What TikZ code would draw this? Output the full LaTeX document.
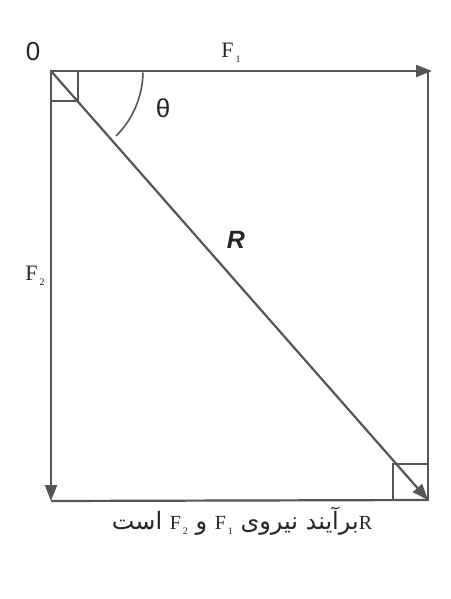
\documentclass[tikz,border=0pt]{standalone}
\usepackage{fontspec}
\setmainfont{Liberation Serif}
\newfontfamily\arabicfont[Script=Arabic,Scale=1.2]{DejaVu Sans}
\newfontfamily\lsans{Liberation Sans}
\TeXXeTstate=1
\usetikzlibrary{arrows.meta}
\definecolor{ink}{RGB}{85,85,85}
\tikzset{
  vec/.style={draw=ink, line width=2.2pt, -{Triangle[length=16pt,width=12pt]}},
  edge/.style={draw=ink, line width=2.2pt},
  thin/.style={draw=ink, line width=1.6pt},
  lab/.style={inner sep=0pt, text=black!85}
}
\newcommand{\Fsub}[1]{F\kern2pt\raisebox{-5pt}{\fontsize{10}{10}\selectfont #1}}
\begin{document}
\begin{tikzpicture}[x=1pt,y=-1pt]
\useasboundingbox (0,0) rectangle (450,599);
\coordinate (O) at (51,71);
\coordinate (A) at (432,71);
\coordinate (Ar) at (428,71);
\coordinate (B) at (51,501);
\coordinate (C) at (428,500);
% corner squares
\draw[thin] (51,71) rectangle (78,101);
\draw[thin] (393,464) rectangle (428,500);
% frame
\draw[edge] (Ar) -- (C);
\draw[edge] (B) -- (C);
% vectors
\draw[vec] (O) -- (A);
\draw[vec] (O) -- (B);
\draw[vec] (O) -- (C);
% angle arc
\draw[thin] (143,72.6) arc[start angle=1, end angle=45, radius=92];
% labels
\node[lab, font={\lsans\fontsize{26}{26}\selectfont}] (zero) at (33,52) {0};
\node[lab, font={\lsans\fontsize{26}{26}\selectfont}] (theta) at (163,108) {θ};
\node[lab, font={\fontsize{22}{22}\selectfont}] (f1) at (231,53) {\Fsub{1}};
\node[lab, font={\fontsize{22}{22}\selectfont}] (f2) at (35,276) {\Fsub{2}};
\node[lab, font={\lsans\bfseries\itshape\fontsize{25}{25}\selectfont}] (R) at (236,240) {R};
\node[lab, font={\fontsize{20}{20}\selectfont}] (cap) at (242,521)
  {\arabicfont\beginR{\rmfamily R}برآیند نیروی \beginL{\rmfamily\Fsub{1}}\endL{} و \beginL{\rmfamily\Fsub{2}}\endL{} است\endR};
\end{tikzpicture}
\end{document}
